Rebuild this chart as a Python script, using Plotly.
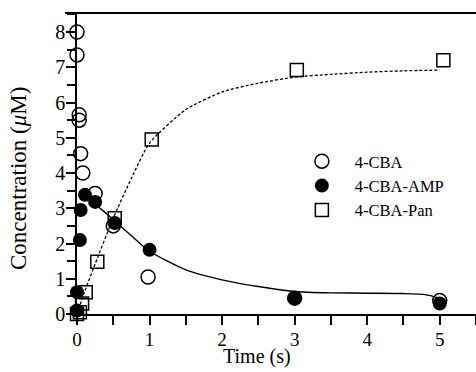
import plotly.graph_objects as go

# 4-CBA (open circles)
cba_t = [0.0, 0.0, 0.03, 0.03, 0.05, 0.08, 0.25, 0.5, 0.98, 3.0, 5.0]
cba_y = [8.0, 7.35, 5.65, 5.5, 4.55, 4.0, 3.42, 2.5, 1.05, 0.45, 0.38]

# 4-CBA-AMP (filled circles)
amp_t = [0.0, 0.0, 0.04, 0.05, 0.11, 0.25, 0.52, 1.0, 3.0, 5.0]
amp_y = [0.1, 0.62, 2.1, 2.95, 3.38, 3.18, 2.58, 1.82, 0.45, 0.3]

# 4-CBA-Pan (open squares)
pan_t = [0.0, 0.04, 0.07, 0.12, 0.28, 0.52, 1.03, 3.03, 5.05]
pan_y = [0.0, 0.05, 0.3, 0.62, 1.48, 2.72, 4.95, 6.92, 7.2]

# fitted curves
fit_amp_t = [0.05, 0.1, 0.25, 0.5, 0.75, 1.0, 1.5, 2.0, 2.5, 3.0, 3.5, 4.0, 4.5, 4.8, 5.0]
fit_amp_y = [3.45, 3.38, 3.12, 2.68, 2.22, 1.78, 1.25, 0.97, 0.78, 0.64, 0.6, 0.59, 0.58, 0.55, 0.45]

fit_pan_t = [0.0, 0.1, 0.25, 0.5, 0.75, 1.0, 1.5, 2.0, 2.5, 3.0, 3.5, 4.0, 4.5, 5.0]
fit_pan_y = [0.0, 0.6, 1.42, 2.72, 3.85, 4.85, 5.8, 6.3, 6.55, 6.72, 6.8, 6.86, 6.9, 6.92]

FONT = "Liberation Serif"

fig = go.Figure()
fig.add_trace(go.Scatter(x=fit_amp_t, y=fit_amp_y, mode="lines",
                         line=dict(color="black", width=1.4, shape="spline", smoothing=0.6),
                         showlegend=False))
fig.add_trace(go.Scatter(x=fit_pan_t, y=fit_pan_y, mode="lines",
                         line=dict(color="black", width=1.3, dash="3px,2px", shape="spline", smoothing=0.6),
                         showlegend=False))
fig.add_trace(go.Scatter(x=cba_t, y=cba_y, mode="markers", name="4-CBA", legendgroup="a",
                         marker=dict(symbol="circle-open", size=14, color="black", line=dict(width=1.5)),
                         cliponaxis=False))
fig.add_trace(go.Scatter(x=amp_t, y=amp_y, mode="markers", name="4-CBA-AMP", legendgroup="b",
                         marker=dict(symbol="circle", size=14, color="black"),
                         cliponaxis=False))
fig.add_trace(go.Scatter(x=pan_t, y=pan_y, mode="markers", name="4-CBA-Pan", legendgroup="c",
                         marker=dict(symbol="square-open", size=13, color="black", line=dict(width=1.5)),
                         cliponaxis=False))

fig.update_layout(
    width=476, height=372,
    margin=dict(l=77, r=0, t=13, b=58),
    paper_bgcolor="white", plot_bgcolor="white",
    font=dict(family=FONT, color="black", size=20),
    legend=dict(x=0.531, y=0.565, xanchor="left", yanchor="top",
                bgcolor="rgba(0,0,0,0)", font=dict(family=FONT, size=16.5),
                itemwidth=56, tracegroupgap=0, traceorder="grouped"),
    xaxis=dict(range=[0, 5.5], tickvals=[0, 1, 2, 3, 4, 5], showgrid=False, zeroline=False,
               showline=True, linecolor="black", linewidth=1.5,
               ticks="outside", ticklen=9, tickwidth=1.5, tickcolor="black",
               ticklabelstandoff=-2,
               minor=dict(dtick=0.5, ticks="outside", ticklen=9, tickwidth=1.5, tickcolor="black"),
               tickfont=dict(family=FONT, size=19)),
    yaxis=dict(range=[0, 8.54], tickvals=list(range(0, 9)), showgrid=False, zeroline=False,
               showline=True, linecolor="black", linewidth=1.5,
               ticks="outside", ticklen=9, tickwidth=1.5, tickcolor="black",
               ticklabelstandoff=-3,
               minor=dict(dtick=0.5, ticks="outside", ticklen=8, tickwidth=1.5, tickcolor="black"),
               tickfont=dict(family=FONT, size=20)),
    shapes=[dict(type="line", xref="paper", yref="paper", x0=-0.03, x1=1, y0=1, y1=1,
                 line=dict(color="black", width=2))],
    annotations=[
        dict(text="Concentration (<i>μ</i>M)", xref="paper", yref="paper", x=-0.145, y=0.449,
             textangle=-90, showarrow=False, font=dict(family=FONT, size=23),
             xanchor="center", yanchor="middle"),
        dict(text="Time (s)", xref="paper", yref="paper", x=0.451, y=-0.187,
             showarrow=False, font=dict(family=FONT, size=20),
             xanchor="center", yanchor="bottom"),
    ],
)

fig.write_html("out.html", post_script="document.body.style.margin='0';",
               config={"displayModeBar": False})
